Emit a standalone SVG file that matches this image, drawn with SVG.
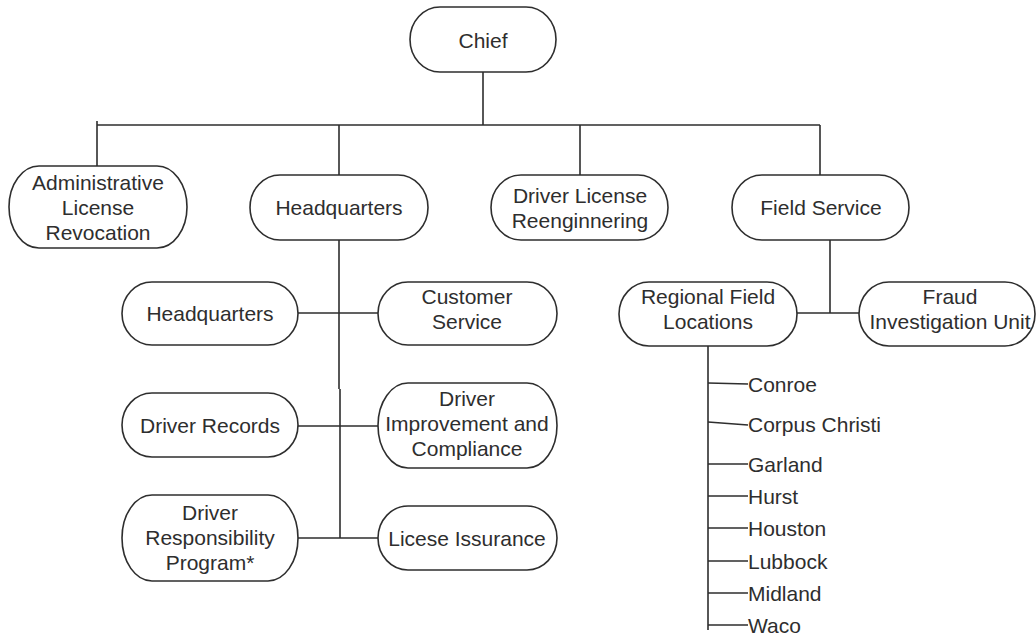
<svg xmlns="http://www.w3.org/2000/svg" width="1036" height="636" viewBox="0 0 1036 636">
<style>
.n{fill:#fff;stroke:#2e2e2e;stroke-width:1.6}
.t{font-family:"Liberation Sans",Arial,sans-serif;font-size:21px;fill:#2e2e2e;text-anchor:middle;dominant-baseline:central}
.l{font-family:"Liberation Sans",Arial,sans-serif;font-size:21px;fill:#2e2e2e;dominant-baseline:central}
.c{stroke:#2e2e2e;stroke-width:1.6;fill:none}
</style>
<rect width="1036" height="636" fill="#fff"/>
<g id="connectors">
<path class="c" d="M483 72V125M97 125H820M97 121V166M339 125V175M580 125V175M820 125V175"/>
<path class="c" d="M339 240V389M340 389V538M298 313H378M298 426H378M298 538H378"/>
<path class="c" d="M830 240V313M797 313H859M708 346V630"/>
<path class="c" d="M708 383L748 384M708 422L748 425M708 464H748M708 496H748M708 528H748M708 561H748M708 593H748M708 625H748"/>
</g>
<g id="chief"><rect class="n" x="410" y="7" width="146" height="65" rx="30" ry="32.5"/><text class="t" x="483" y="40">Chief</text></g>
<g id="admin"><rect class="n" x="9" y="166" width="178" height="82" rx="30" ry="41"/><text class="t" x="98" y="182">Administrative</text><text class="t" x="98" y="207">License</text><text class="t" x="98" y="232">Revocation</text></g>
<g id="hq"><rect class="n" x="250" y="175" width="178" height="65" rx="30" ry="32.5"/><text class="t" x="339" y="207">Headquarters</text></g>
<g id="dlr"><rect class="n" x="491" y="175" width="177" height="65" rx="30" ry="32.5"/><text class="t" x="580" y="195">Driver License</text><text class="t" x="580" y="220">Reenginnering</text></g>
<g id="field"><rect class="n" x="732" y="175" width="177" height="65" rx="30" ry="32.5"/><text class="t" x="821" y="207">Field Service</text></g>
<g id="hq2"><rect class="n" x="122" y="282" width="176" height="63" rx="30" ry="31.5"/><text class="t" x="210" y="313">Headquarters</text></g>
<g id="customer"><rect class="n" x="378" y="282" width="179" height="63" rx="30" ry="31.5"/><text class="t" x="467" y="296">Customer</text><text class="t" x="467" y="321">Service</text></g>
<g id="records"><rect class="n" x="122" y="393" width="176" height="64" rx="30" ry="32"/><text class="t" x="210" y="425">Driver Records</text></g>
<g id="improvement"><rect class="n" x="378" y="383" width="179" height="85" rx="30" ry="42.5"/><text class="t" x="467" y="398">Driver</text><text class="t" x="467" y="423">Improvement and</text><text class="t" x="467" y="448">Compliance</text></g>
<g id="responsibility"><rect class="n" x="122" y="495" width="176" height="86" rx="30" ry="43"/><text class="t" x="210" y="512">Driver</text><text class="t" x="210" y="537">Responsibility</text><text class="t" x="210" y="562">Program*</text></g>
<g id="issurance"><rect class="n" x="378" y="506" width="179" height="64" rx="30" ry="32"/><text class="t" x="467" y="538">Licese Issurance</text></g>
<g id="regional"><rect class="n" x="619" y="282" width="178" height="64" rx="30" ry="32"/><text class="t" x="708" y="296">Regional Field</text><text class="t" x="708" y="321">Locations</text></g>
<g id="fraud"><rect class="n" x="859" y="282" width="176" height="64" rx="30" ry="32"/><text class="t" x="950" y="296">Fraud</text><text class="t" x="950" y="321">Investigation Unit</text></g>
<g id="locations">
<text class="l" x="748" y="384">Conroe</text>
<text class="l" x="748" y="424">Corpus Christi</text>
<text class="l" x="748" y="464">Garland</text>
<text class="l" x="748" y="496">Hurst</text>
<text class="l" x="748" y="528">Houston</text>
<text class="l" x="748" y="561">Lubbock</text>
<text class="l" x="748" y="593">Midland</text>
<text class="l" x="748" y="625">Waco</text>
</g>
</svg>
